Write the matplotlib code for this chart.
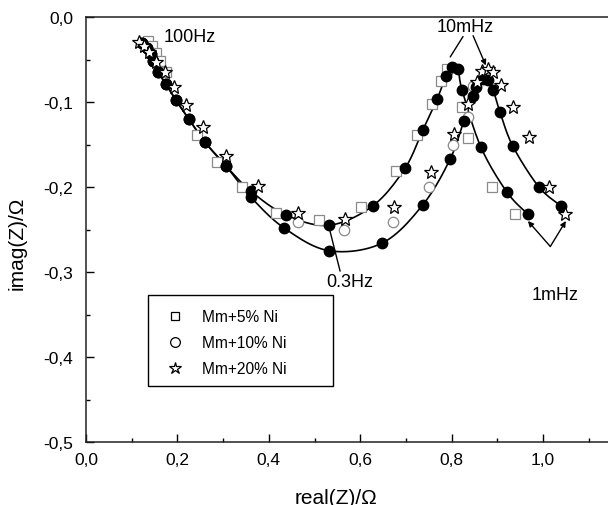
import numpy as np
import matplotlib
matplotlib.use("Agg")
import matplotlib.pyplot as plt
from matplotlib.lines import Line2D
from matplotlib.patches import Rectangle
from matplotlib.ticker import MultipleLocator, FuncFormatter

plt.rcParams['font.family'] = ['Liberation Sans', 'DejaVu Sans']

# Mm+5% Ni (open squares)
sq_re = [0.136, 0.144, 0.153, 0.162, 0.175, 0.243, 0.287, 0.341, 0.416, 0.510,
         0.602, 0.678, 0.724, 0.757, 0.777, 0.790, 0.823, 0.836, 0.888, 0.939]
sq_im = [-0.028, -0.034, -0.042, -0.052, -0.065, -0.139, -0.171, -0.200, -0.231, -0.239,
         -0.224, -0.181, -0.139, -0.102, -0.075, -0.061, -0.106, -0.142, -0.200, -0.232]

# Mm+10% Ni (open circles)
ci_re = [0.464, 0.565, 0.672, 0.751, 0.803, 0.836, 0.847]
ci_im = [-0.241, -0.251, -0.241, -0.200, -0.151, -0.118, -0.081]

# Mm+20% Ni (open stars)
st_re = [0.116, 0.127, 0.138, 0.153, 0.173, 0.193, 0.219, 0.256, 0.306, 0.376,
         0.464, 0.567, 0.674, 0.755, 0.805, 0.836, 0.856, 0.867, 0.880, 0.891,
         0.908, 0.934, 0.969, 1.013, 1.048]
st_im = [-0.029, -0.034, -0.041, -0.053, -0.065, -0.082, -0.104, -0.129, -0.164, -0.199,
         -0.231, -0.238, -0.224, -0.182, -0.138, -0.102, -0.077, -0.064, -0.061, -0.065,
         -0.080, -0.106, -0.141, -0.200, -0.232]

# fitted points, two curves (filled circles + line)
hf_re = [0.123, 0.134, 0.142, 0.147, 0.158, 0.175, 0.197, 0.225, 0.260, 0.306]
hf_im = [-0.031, -0.037, -0.044, -0.052, -0.065, -0.079, -0.098, -0.120, -0.147, -0.175]

fa_re = hf_re + [0.361, 0.438, 0.532, 0.628, 0.698, 0.737, 0.768, 0.788, 0.801, 0.814,
                 0.823, 0.864, 0.921, 0.967]
fa_im = hf_im + [-0.205, -0.233, -0.245, -0.222, -0.178, -0.133, -0.097, -0.069, -0.059, -0.061,
                 -0.086, -0.153, -0.206, -0.232]

fb_re = hf_re + [0.361, 0.433, 0.532, 0.648, 0.737, 0.797, 0.827, 0.847, 0.853, 0.869,
                 0.880, 0.891, 0.906, 0.934, 0.991, 1.039]
fb_im = hf_im + [-0.212, -0.248, -0.275, -0.266, -0.221, -0.167, -0.122, -0.093, -0.082, -0.073,
                 -0.074, -0.086, -0.112, -0.152, -0.200, -0.222]

legend_labels = ['Mm+5% Ni', 'Mm+10% Ni', 'Mm+20% Ni']


def smooth_line(x, y, n=12):
    """Catmull-Rom path through the points, only used to draw the fit line."""
    p = np.column_stack([x, y])
    p = np.vstack([p[0], p, p[-1]])
    out = []
    t = np.linspace(0, 1, n, endpoint=False)[:, None]
    for i in range(1, len(p) - 2):
        p0, p1, p2, p3 = p[i - 1], p[i], p[i + 1], p[i + 2]
        seg = 0.5 * ((2 * p1) + (-p0 + p2) * t + (2 * p0 - 5 * p1 + 4 * p2 - p3) * t ** 2
                     + (-p0 + 3 * p1 - 3 * p2 + p3) * t ** 3)
        out.append(seg)
    out.append(p[-2][None, :])
    out = np.vstack(out)
    return out[:, 0], out[:, 1]


fig = plt.figure(figsize=(6.08, 5.06), dpi=100)
ax = fig.add_axes([86 / 608, 1 - 443 / 506, 522 / 608, 425 / 506])

for xs, ys in [(fa_re, fa_im), (fb_re, fb_im)]:
    sx, sy = smooth_line(xs, ys)
    ax.plot(sx, sy, '-', color='black', lw=1.2, zorder=2)

ax.plot(sq_re, sq_im, 's', ms=6.5, mfc='white', mec='#8a8a8a', mew=0.9, ls='none', zorder=3)
ax.plot(ci_re, ci_im, 'o', ms=7.5, mfc='white', mec='#8a8a8a', mew=0.9, ls='none', zorder=3)
ax.plot(fa_re, fa_im, 'o', ms=7.5, color='black', ls='none', zorder=4)
ax.plot(fb_re, fb_im, 'o', ms=7.5, color='black', ls='none', zorder=4)
ax.plot(st_re, st_im, '*', ms=10, mfc='white', mec='black', mew=0.9, ls='none', zorder=5)

# annotations
ax.text(0.228, -0.023, '100Hz', ha='center', va='center', fontsize=13)
ax.text(0.829, -0.011, '10mHz', ha='center', va='center', fontsize=13)
ax.text(0.577, -0.311, '0.3Hz', ha='center', va='center', fontsize=13)
ax.text(1.026, -0.327, '1mHz', ha='center', va='center', fontsize=13)

ax.annotate('', xy=(0.797, -0.047), xytext=(0.825, -0.023),
            arrowprops=dict(arrowstyle='-', color='black', lw=1, shrinkA=0, shrinkB=0))
ax.annotate('', xy=(0.875, -0.057), xytext=(0.847, -0.022),
            arrowprops=dict(arrowstyle='-|>', color='black', lw=1, mutation_scale=8,
                            shrinkA=0, shrinkB=0))
ax.annotate('', xy=(0.534, -0.252), xytext=(0.556, -0.299),
            arrowprops=dict(arrowstyle='-', color='black', lw=1, shrinkA=0, shrinkB=0))
ax.annotate('', xy=(0.967, -0.240), xytext=(1.016, -0.270),
            arrowprops=dict(arrowstyle='-|>', color='black', lw=1, mutation_scale=8,
                            shrinkA=0, shrinkB=0))
ax.annotate('', xy=(1.050, -0.240), xytext=(1.016, -0.270),
            arrowprops=dict(arrowstyle='-|>', color='black', lw=1, mutation_scale=8,
                            shrinkA=0, shrinkB=0))

ax.set_xlim(0, 522 / 457)
ax.set_ylim(-0.5, 0.0)
ax.xaxis.set_major_locator(MultipleLocator(0.2))
ax.xaxis.set_minor_locator(MultipleLocator(0.1))
ax.yaxis.set_major_locator(MultipleLocator(0.1))
ax.yaxis.set_minor_locator(MultipleLocator(0.05))
fmt = FuncFormatter(lambda v, p: f"{v:.1f}".replace('.', ',').replace('-0,0', '0,0'))
ax.xaxis.set_major_formatter(fmt)
ax.yaxis.set_major_formatter(fmt)
ax.tick_params(which='both', direction='in', top=False, right=False, labelsize=12.5)
ax.tick_params(which='major', length=6, width=1)
ax.tick_params(which='minor', length=3, width=1)
ax.tick_params(axis='x', pad=7)
ax.tick_params(axis='y', pad=9)
ax.spines['right'].set_visible(False)
for s in ['left', 'bottom', 'top']:
    ax.spines[s].set_linewidth(1.1)
    ax.spines[s].set_color('#222222')

ax.set_xlabel('real(Z)/Ω', fontsize=15)
ax.set_ylabel('imag(Z)/Ω', fontsize=15)
ax.xaxis.set_label_coords((336 - 86) / 522, -(498 - 443) / 425, transform=ax.transAxes)
ax.yaxis.set_label_coords(-(86 - 17) / 522, 1 - (243 - 18) / 425, transform=ax.transAxes)
ax.xaxis.label.set_va('center')
ax.yaxis.label.set_va('center')

# legend box drawn as a plain rectangle, entries without own frame
box_x0, box_y0 = (148 - 86) / 522, 1 - (387 - 18) / 425
box_w, box_h = (333 - 148) / 522, (387 - 296) / 425
ax.add_patch(Rectangle((box_x0, box_y0), box_w, box_h, transform=ax.transAxes,
                       fill=True, facecolor='white', edgecolor='black', lw=1, zorder=6))
handles = [Line2D([], [], marker='s', ls='none', mfc='white', mec='black', ms=6, mew=0.9),
           Line2D([], [], marker='o', ls='none', mfc='white', mec='black', ms=7, mew=0.9),
           Line2D([], [], marker='*', ls='none', mfc='white', mec='black', ms=9, mew=0.9)]
leg = ax.legend(handles, legend_labels, loc='upper left',
                bbox_to_anchor=((163 - 86) / 522, 1 - (310 - 18) / 425),
                fontsize=11.2, frameon=False, handletextpad=1.0,
                borderpad=0, labelspacing=0.72, handlelength=1.5, borderaxespad=0)
leg.set_zorder(7)

fig.savefig('out.png', dpi=100)
